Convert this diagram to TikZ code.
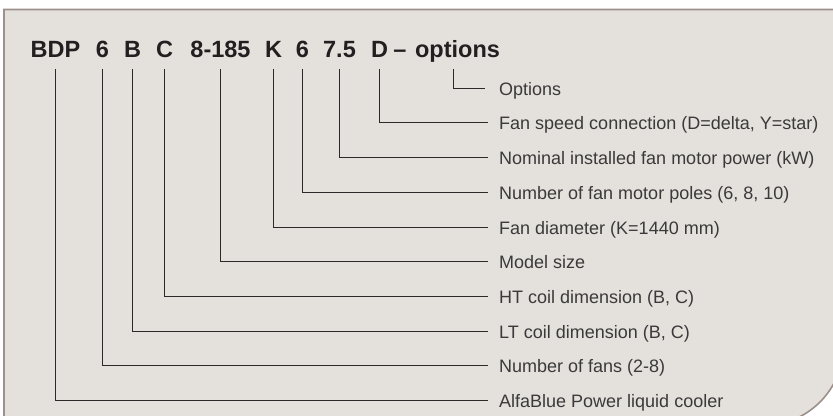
\documentclass[tikz,border=0pt]{standalone}
\usepackage{fontspec}
\setmainfont{Liberation Sans}
\definecolor{panelfill}{HTML}{E4E0DC}
\definecolor{panelline}{HTML}{9D908A}
\definecolor{titlecol}{HTML}{231F20}
\definecolor{labelcol}{HTML}{3A3A3A}
\definecolor{linecol}{HTML}{2A2A2A}
\begin{document}
\begin{tikzpicture}[x=1bp,y=-1bp,
  panel/.style={fill=panelfill,draw=panelline,line width=1.6bp},
  tok/.style={anchor=base,inner sep=0pt,text=titlecol,font=\fontsize{23.5bp}{26bp}\selectfont\bfseries},
  lab/.style={anchor=west,inner xsep=11bp,inner ysep=0pt,text height=14bp,text depth=0bp,text=labelcol,font=\fontsize{18bp}{20bp}\selectfont},
  conn/.style={draw=linecol,line width=1.1bp}]
\useasboundingbox (0,0) rectangle (833,415);
\begin{scope}
\clip (0,0) rectangle (833,415);
\draw[panel] (4,9.5) -- (843.6,9.5) -- (843.6,345) arc[start angle=0,end angle=90,radius=80.6] -- (4,425.6) -- cycle;
\end{scope}
% title tokens
\node[tok] (t1) at (55.5,57) {BDP};
\node[tok] (t2) at (102.5,57) {6};
\node[tok] (t3) at (132.5,57) {B};
\node[tok] (t4) at (164.5,57) {C};
\node[tok] (t5) at (220.5,57) {8-185};
\node[tok] (t6) at (273.5,57) {K};
\node[tok] (t7) at (302.5,57) {6};
\node[tok] (t8) at (339.5,57) {7.5};
\node[tok] (t9) at (379.5,57) {D};
\node[tok] (td) at (400,57) {–};
\node[tok] (t10) at (457.5,57) {options};
% labels
\node[lab] (l10) at (488,88.5) {Options};
\node[lab] (l9) at (488,122.5) {Fan speed connection (D=delta, Y=star)};
\node[lab] (l8) at (488,157.5) {Nominal installed fan motor power (kW)};
\node[lab] (l7) at (488,192.5) {Number of fan motor poles (6, 8, 10)};
\node[lab] (l6) at (488,227.5) {Fan diameter (K=1440 mm)};
\node[lab] (l5) at (488,261.5) {Model size};
\node[lab] (l4) at (488,296.5) {HT coil dimension (B, C)};
\node[lab] (l3) at (488,331.5) {LT coil dimension (B, C)};
\node[lab] (l2) at (488,365.5) {Number of fans (2-8)};
\node[lab] (l1) at (488,400.5) {AlfaBlue Power liquid cooler};
% connectors
\draw[conn] ([xshift=-4bp,yshift=-12bp]t10.base) |- ([xshift=-3bp]l10.west);
\foreach \i in {1,...,9}{
  \draw[conn] ([yshift=-12bp]t\i.base) |- (l\i.west);
}
\end{tikzpicture}
\end{document}
